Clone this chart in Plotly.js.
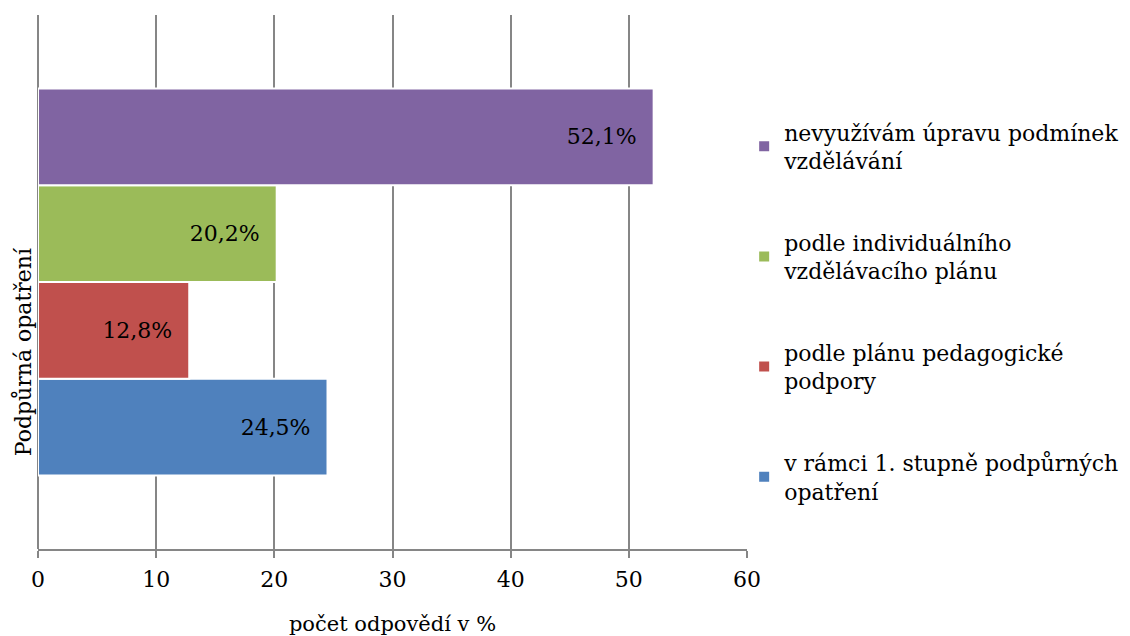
<!DOCTYPE html>
<html>
<head>
<meta charset="utf-8">
<script src="https://cdn.plot.ly/plotly-3.0.1.min.js"></script>
<style>html,body{margin:0;padding:0;background:#fff}#chart{width:1130px;height:636px}</style>
</head>
<body>
<div id="chart"></div>
<script>
const category = ['Podpůrná opatření'];
const seriesNames = [
  'v rámci 1. stupně podpůrných<br>opatření',
  'podle plánu pedagogické<br>podpory',
  'podle individuálního<br>vzdělávacího plánu',
  'nevyužívám úpravu podmínek<br>vzdělávání'
];
const seriesValues = [24.5, 12.8, 20.2, 52.1];
const seriesColors = ['#4f81bd', '#c0504d', '#9bbb59', '#8064a2'];
const xTicks = [0, 10, 20, 30, 40, 50, 60];

const FONT = 'DejaVu Serif, serif';

const traces = seriesNames.map((name, i) => ({
  type: 'bar',
  orientation: 'h',
  name: name,
  legendgroup: 'g' + i,
  legendrank: seriesNames.length - i,
  y: [0],
  x: [seriesValues[i]],
  text: [seriesValues[i].toFixed(1).replace('.', ',') + '%'],
  texttemplate: '%{text}  ',
  textposition: 'inside',
  insidetextanchor: 'end',
  textfont: {family: FONT, size: 22, color: '#000'},
  marker: {color: seriesColors[i], line: {color: '#ffffff', width: 2}},
  hoverinfo: 'none'
}));

const layout = {
  width: 1130, height: 636,
  margin: {l: 38, r: 383, t: 15, b: 87, autoexpand: false},
  paper_bgcolor: '#fff', plot_bgcolor: '#fff',
  barmode: 'group',
  bargap: 0.275,
  bargroupgap: 0,
  separators: ', ',
  font: {family: FONT, size: 22, color: '#000'},
  xaxis: {
    range: [0, 60],
    tickvals: xTicks,
    ticktext: xTicks.map(String),
    showgrid: true, gridcolor: '#868686', gridwidth: 2,
    zeroline: true, zerolinecolor: '#868686', zerolinewidth: 2,
    showline: true, linecolor: '#868686', linewidth: 2,
    ticks: 'outside', ticklen: 7, tickcolor: '#868686', tickwidth: 2,
    ticklabelstandoff: 3,
    tickfont: {family: FONT, size: 22, color: '#000'},
    title: {text: 'počet odpovědí v %', font: {family: FONT, size: 21, color: '#000'}, standoff: 28}
  },
  yaxis: {
    range: [-0.5, 0.5],
    tickvals: [0], ticktext: [''],
    showgrid: false, zeroline: false,
    showline: false,
    ticks: ''
  },
  annotations: [{
    text: category[0],
    xref: 'paper', yref: 'paper',
    x: -0.02, y: 0.37,
    xanchor: 'center', yanchor: 'middle',
    textangle: -90,
    showarrow: false,
    font: {family: FONT, size: 22, color: '#000'}
  }],
  legend: {
    x: 0.996, xanchor: 'left', y: 0.82, yanchor: 'top',
    traceorder: 'grouped',
    tracegroupgap: 50,
    font: {family: FONT, size: 22, color: '#000'},
    itemwidth: 30
  },
  showlegend: true
};

Plotly.newPlot('chart', traces, layout, {displayModeBar: false, staticPlot: true});
</script>
</body>
</html>
